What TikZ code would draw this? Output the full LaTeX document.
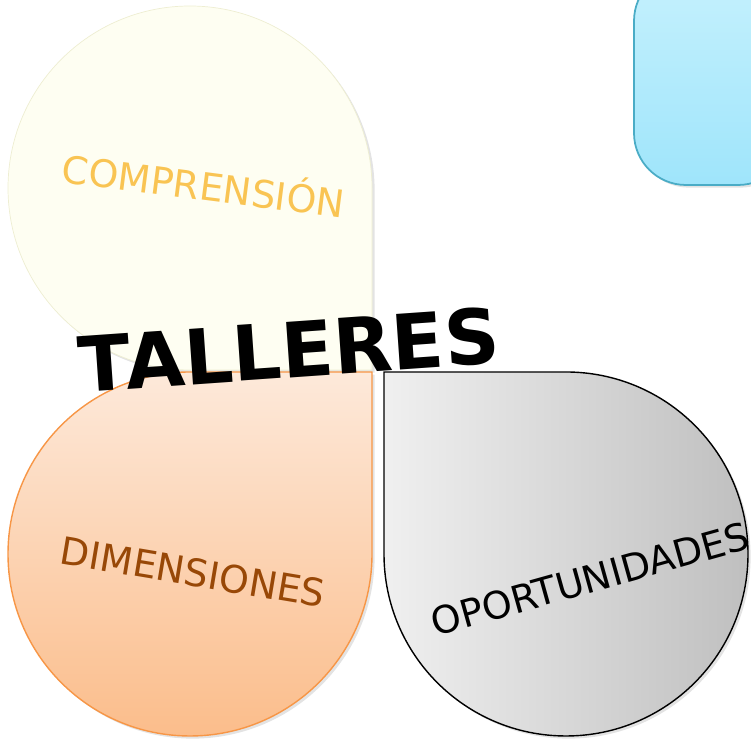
\documentclass[tikz,border=0pt]{standalone}
\usepackage{fontspec}
\setmainfont{DejaVu Sans}
\usetikzlibrary{shadows}

\definecolor{azularriba}{HTML}{C6F1FD}
\definecolor{azulabajo}{HTML}{9FE5FB}
\definecolor{azulborde}{HTML}{4AACC6}
\definecolor{cremafondo}{HTML}{FEFEF2}
\definecolor{cremaborde}{HTML}{EEEED2}
\definecolor{amarillo}{HTML}{F9C453}
\definecolor{naranjaarriba}{HTML}{FDE9DA}
\definecolor{naranjaabajo}{HTML}{FBBD8B}
\definecolor{naranjaborde}{HTML}{F79646}
\definecolor{marron}{HTML}{984807}

\begin{document}
\begin{tikzpicture}[x=0.02cm,y=0.02cm,
	etiqueta/.style={font=\fontsize{21.6}{26}\selectfont,inner sep=0pt},
	sombra/.style={drop shadow={opacity=0.22,shadow xshift=1.5pt,shadow yshift=-1.5pt}}]
		\clip (0,0) rectangle (751,739);
		% recuadro azul (cortado)
		\path[draw=azulborde,line width=1pt,top color=azularriba,bottom color=azulabajo,
			rounded corners=1.04cm,sombra] (634,554) rectangle (790,770);
		% gotas
		\path[draw=cremaborde,fill=cremafondo,sombra]
			(372,369) -- (372,551) arc[start angle=0,end angle=270,radius=182] -- cycle;
		\path[draw=naranjaborde,line width=0.8pt,top color=naranjaarriba,bottom color=naranjaabajo,sombra]
			(372,367) -- (190,367) arc[start angle=90,end angle=360,radius=182] -- cycle;
		\path[draw=black,line width=0.8pt,left color=gray!12,right color=gray!50,sombra]
			(384,367) -- (384,185) arc[start angle=180,end angle=450,radius=182] -- cycle;
		% textos
		\node[etiqueta,text=amarillo,rotate=-7.3] (comprension) at (204,556) {COMPRENSIÓN};
		\node[etiqueta,text=marron,rotate=-9.5] (dimensiones) at (193,167) {DIMENSIONES};
		\node[etiqueta,rotate=15.6] (oportunidades) at (590,160) {OPORTUNIDADES};
		\node[inner sep=0pt,font=\fontsize{43.5}{52}\selectfont\bfseries,rotate=4] (talleres) at (289,389) {TALLERES};
	\end{tikzpicture}
\end{document}
